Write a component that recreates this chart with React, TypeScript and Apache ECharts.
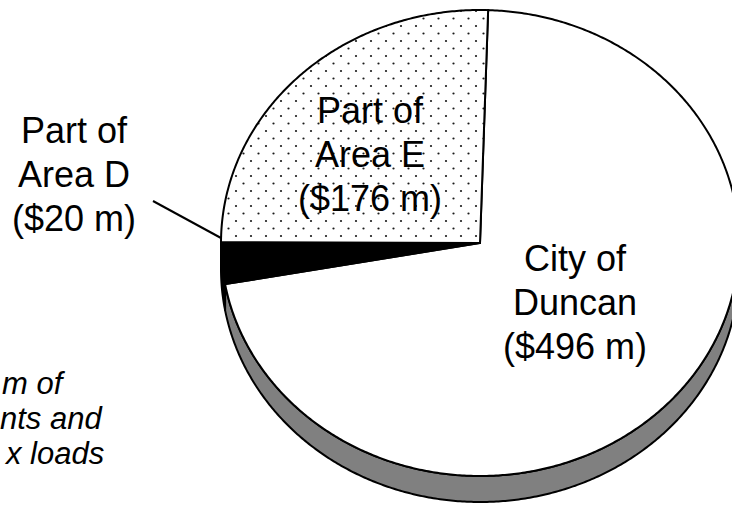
import React, { useEffect, useRef } from 'react';
import * as echarts from 'echarts';

// ---- data ----
const categories = ['City of Duncan', 'Part of Area D', 'Part of Area E'];
const labelNames = ['City of\nDuncan', 'Part of\nArea D', 'Part of\nArea E'];
const values = [496, 20, 176]; // $ millions
const noteLines = ['m of', 'nts and', 'x loads'];

// ---- layout / style (not data) ----
const CX = 480;
const CY = 243;
const RX = 259;
const RY = 233;
const DEPTH = 26;
const START_ANGLE = 88.2; // degrees, slices go clockwise
const FONT = 'Arial, "Liberation Sans", Helvetica, sans-serif';
const topFills = ['#ffffff', '#000000', 'dots'];
const sideFills = ['#808080', '#000000', '#808080'];
const labelPos: [number, number][] = [
  [575, 302],
  [74, 174],
  [370, 154],
];
const noteLeft = [2, 0, 6];

function pt(theta: number, dy = 0): number[] {
  const r = (theta * Math.PI) / 180;
  return [CX + RX * Math.cos(r), CY - RY * Math.sin(r) + dy];
}

function arc(a: number, b: number, dy = 0): number[][] {
  const n = Math.max(2, Math.ceil(Math.abs(a - b) / 0.5));
  const out: number[][] = [];
  for (let i = 0; i <= n; i++) out.push(pt(a + ((b - a) * i) / n, dy));
  return out;
}

function makeDotPattern(): any {
  const c = document.createElement('canvas');
  c.width = 15;
  c.height = 15;
  const ctx = c.getContext('2d')!;
  ctx.fillStyle = '#ffffff';
  ctx.fillRect(0, 0, 15, 15);
  ctx.fillStyle = '#1a1a1a';
  ctx.beginPath();
  ctx.arc(3.5, 3.5, 1.1, 0, Math.PI * 2);
  ctx.fill();
  ctx.beginPath();
  ctx.arc(11, 11, 1.1, 0, Math.PI * 2);
  ctx.fill();
  return { image: c.toDataURL(), repeat: 'repeat', imageWidth: 15, imageHeight: 15 };
}

export default function App() {
  const ref = useRef<HTMLDivElement>(null);
  useEffect(() => {
    if (!ref.current) return;
    const chart = echarts.init(ref.current, undefined, { renderer: 'svg' });
    const total = values.reduce((s, v) => s + v, 0);
    const starts: number[] = [];
    let acc = 0;
    values.forEach((v) => {
      starts.push(START_ANGLE - (360 * acc) / total);
      acc += v;
    });
    const dots = makeDotPattern();

    const renderItem = (params: any, api: any) => {
      const i = params.dataIndex;
      const v = api.value(0);
      const a0 = starts[i];
      const a1 = a0 - (360 * v) / total;
      const children: any[] = [];
      for (let k = -1; k <= 1; k++) {
        const lo = Math.max(a1, k * 360 - 180);
        const hi = Math.min(a0, k * 360);
        if (hi - lo > 0.01) {
          const top = arc(hi, lo, 0);
          const bottom = arc(lo, hi, DEPTH);
          children.push({
            type: 'polygon',
            shape: { points: top.concat(bottom) },
            style: { fill: sideFills[i], stroke: '#000', lineWidth: 2, lineJoin: 'round' },
          });
        }
      }
      const pts = [[CX, CY]].concat(arc(a0, a1, 0));
      const fill = topFills[i] === 'dots' ? dots : topFills[i];
      children.push({
        type: 'polygon',
        shape: { points: pts },
        style: { fill, stroke: '#000', lineWidth: 2, lineJoin: 'miter' },
      });
      return { type: 'group', children };
    };

    const labelTexts = categories.map((_, i) => ({
      type: 'text',
      x: labelPos[i][0],
      y: labelPos[i][1],
      z: 100,
      style: {
        text: `${labelNames[i]}\n($${values[i]} m)`,
        fill: '#000',
        font: `36px ${FONT}`,
        lineHeight: 44,
        align: 'center',
        verticalAlign: 'middle',
      },
    }));

    const noteTexts = noteLines.map((t, i) => ({
      type: 'text',
      x: noteLeft[i],
      y: 383 + i * 35,
      z: 100,
      style: {
        text: t,
        fill: '#000',
        font: `italic 31px ${FONT}`,
        align: 'left',
        verticalAlign: 'middle',
      },
    }));

    chart.setOption({
      animation: false,
      backgroundColor: '#ffffff',
      series: [
        {
          type: 'custom',
          name: 'Assessment',
          coordinateSystem: 'none',
          silent: true,
          data: values.map((v, i) => ({ name: categories[i], value: [v] })),
          renderItem,
        },
      ],
      graphic: [
        {
          type: 'line',
          z: 100,
          shape: { x1: 153, y1: 201, x2: 221, y2: 238 },
          style: { stroke: '#000', lineWidth: 2 },
        },
        ...labelTexts,
        ...noteTexts,
      ],
    });
    return () => chart.dispose();
  }, []);
  return (
    <div
      ref={ref}
      style={{ position: 'fixed', left: 0, top: 0, width: 732, height: 506 }}
    />
  );
}
